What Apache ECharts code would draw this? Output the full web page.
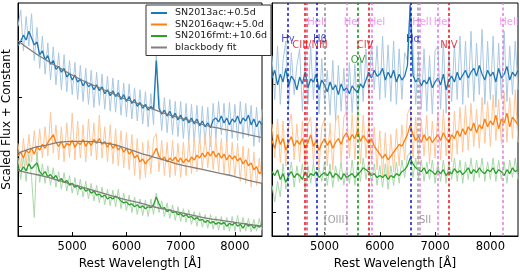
<!DOCTYPE html>
<html>
<head>
<meta charset="utf-8">
<script src="https://cdn.jsdelivr.net/npm/echarts@6/dist/echarts.min.js"></script>
<style>
  html, body { margin: 0; padding: 0; background: #fff; }
  #chart { width: 520px; height: 275px; }
</style>
</head>
<body>
<div id="chart"></div>
<script>
// wavelength grids (Angstrom), 50 A steps
const wlLeft = []
for (let w = 4000; w <= 8500; w += 50) wlLeft.push(w)
const wlRight = []
for (let w = 4050; w <= 8500; w += 50) wlRight.push(w)
const wlFit = []
for (let w = 4000; w <= 8500; w += 250) wlFit.push(w)

// left panel: scaled flux + constant
const blueLeft = [195,200,206,201,210,203,196,199,186,190,181,185,176,180,171,174,168,172,163,167,160,165,158,161,154,159,153,156,150,155,149,153,146,150,144,149,143,147,140,145,138,143,136,140,133,137,131,135,129,133,130,180,131,125,129,123,128,121,126,119,124,118,122,116,121,115,120,113,118,112,116,111,119,121,117,123,116,121,114,120,117,123,115,121,118,124,114,120,112,118,114]
const blueLeftRaw = [215,232,190,225,195,228,180,214,172,205,166,198,160,194,155,188,150,186,148,180,145,178,140,175,138,172,135,170,132,168,134,166,130,164,128,162,127,160,124,157,122,156,120,152,118,150,115,148,112,146,114,186,144,108,142,106,140,104,138,102,138,100,136,98,135,96,134,95,133,94,132,92,136,100,138,104,136,96,137,100,135,98,138,100,136,102,134,92,132,96,130]
const orangeLeft = [82,86,80,88,85,90,84,92,88,94,90,96,100,104,96,92,97,90,95,93,98,91,96,94,99,92,97,93,99,95,100,94,97,91,96,90,94,88,92,86,90,84,87,80,83,76,79,74,78,80,84,90,82,78,81,76,80,77,81,76,80,75,79,76,81,78,83,80,85,81,86,82,87,81,85,80,84,78,83,79,82,77,80,74,78,72,75,68,71,64,66]
const orangeLeftRaw = [95,70,100,72,104,76,108,78,110,80,112,82,127,85,114,78,112,76,116,80,126,78,118,80,114,76,120,82,116,78,124,80,112,76,114,74,110,72,108,70,106,68,104,62,100,58,96,60,98,64,100,105,66,98,62,96,60,98,62,95,60,96,62,98,64,100,66,102,68,104,70,102,68,100,66,100,64,98,62,96,60,95,56,92,54,90,50,86,52,80,55]
const greenLeft = [70,66,71,67,74,69,72,75,66,63,66,61,63,59,62,56,59,55,57,52,54,50,52,48,50,46,48,44,46,42,43,40,42,38,40,38,41,39,36,34,35,32,33,30,32,29,31,28,30,29,32,40,33,28,29,25,27,24,25,22,23,20,22,19,20,17,19,16,17,14,16,13,15,12,14,12,14,10,13,11,14,10,12,8,13,10,12,8,11,9,12]
const greenLeftRaw = [80,58,82,56,84,60,19,86,55,74,54,72,52,70,50,66,48,65,46,62,44,60,42,58,40,56,38,54,36,52,34,50,32,48,31,47,30,48,28,44,26,42,24,40,22,38,21,37,20,38,22,44,24,36,20,34,18,32,16,30,15,28,14,27,12,25,10,24,9,22,8,22,7,20,6,20,6,19,5,20,5,21,4,19,5,18,4,17,5,18,6]

// blackbody fits, every 250 A
const fitBlue = [200,190,181,173,165,158,152,146,140,135,130,125,121,117,113,110,107,104,101]
const fitOrange = [85,90,93,96,97,97,96,94,90,85,81,77,73,70,67,64,61,57,54]
const fitGreen = [67,64,61,57,53,49,45,41,37,34,30,27,24,21,18,16,14,12,10]

// right panel: continuum-normalised spectra
const blueRight = [162,170,155,166,158,172,154,164,160,150,163,156,168,152,161,158,166,150,160,155,148,158,150,155,145,156,149,152,146,154,150,147,156,152,160,168,162,170,164,166,172,160,168,162,170,158,166,160,164,175,237,165,158,162,154,160,156,163,152,158,162,155,166,150,160,164,158,168,160,165,170,162,168,172,164,175,166,160,170,164,168,158,172,162,166,174,160,168,164,170]
const blueRightRaw = [185,140,195,135,180,200,130,188,145,175,192,128,186,135,195,140,190,125,182,138,170,124,180,118,175,128,172,120,178,126,176,122,182,138,192,145,198,150,195,140,205,142,196,138,200,135,192,140,188,180,238,195,135,188,130,192,128,185,125,190,195,130,200,126,190,138,196,140,205,135,200,142,210,138,198,145,212,135,200,140,205,132,198,140,210,138,195,145,200,150]
const orangeRight = [98,90,104,94,100,88,96,102,92,98,94,100,90,96,104,92,98,88,95,100,93,98,90,96,100,94,102,106,98,104,100,108,97,103,99,95,100,92,88,84,80,84,78,82,86,90,94,92,98,104,114,104,98,102,96,104,98,102,96,100,104,98,106,100,96,104,100,108,102,110,104,112,108,116,106,114,110,120,112,118,114,124,110,120,116,126,112,122,118,114]
const orangeRightRaw = [115,80,120,75,118,72,112,125,78,115,76,118,70,114,122,74,116,68,112,120,72,116,68,118,124,76,122,128,80,125,78,130,74,124,80,118,76,112,68,108,62,106,58,104,66,110,72,114,78,125,132,80,122,76,120,82,124,74,118,80,126,78,130,82,120,76,128,84,132,86,134,88,136,92,130,90,142,95,138,92,145,98,140,94,148,96,142,100,150,96]
const greenRight = [66,62,68,58,64,55,62,66,60,64,62,58,66,60,64,62,66,60,63,65,62,66,60,64,62,58,64,60,62,64,60,63,66,70,68,66,62,64,60,62,60,63,58,62,60,64,62,66,68,72,80,74,70,68,66,70,64,68,66,63,67,64,68,62,66,64,69,65,67,63,66,70,64,68,65,70,66,64,68,66,70,64,68,66,62,68,64,70,66,68]
const greenRightRaw = [52,35,56,40,74,48,58,76,50,72,55,74,48,72,54,75,50,70,56,76,52,74,50,72,56,76,52,70,54,78,52,74,56,80,58,76,54,74,52,72,50,74,48,72,52,76,54,78,60,82,86,60,80,58,78,56,76,58,78,54,76,56,78,54,76,58,80,56,78,54,76,58,80,56,78,60,80,56,76,58,80,56,78,58,76,54,78,60,80,58]

// identified lines (rest wavelength) and their colours
const lineWl = [4340, 4640, 4686, 4861, 5007, 5411, 5597, 5801, 5850, 6563, 6690, 6725, 7055, 7240, 8230]
const lineColor = ["#1515c8", "#e8101a", "#e84070", "#1515c8", "#888888", "#e07be0", "#118811", "#e8101a", "#e07be0", "#1515c8", "#999999", "#e07be0", "#e07be0", "#e8101a", "#e07be0"]

// line labels: text, wavelength, height, colour
const labelText = ["HeII", "HeI", "HeI", "HeII", "HeI", "HeII", "Hγ", "CIII/NIII", "Hβ", "CIV", "OV", "Hα", "NIV", "[OIII]", "SII"]
const labelWl = [4864, 5497, 5949, 6763, 7125, 8337, 4339, 4737, 4918, 5733, 5606, 6601, 7252, 5208, 6818]
const labelY = [219, 219, 219, 219, 219, 219, 202, 195, 202, 195, 180, 202, 195, 16, 16]
const labelColor = ["#ee82ee", "#ee82ee", "#ee82ee", "#ee82ee", "#ee82ee", "#ee82ee", "#1515c8", "#e8101a", "#1515c8", "#e8101a", "#118811", "#1515c8", "#e8101a", "#888888", "#888888"]

const names = ["SN2013ac:+0.5d", "SN2016aqw:+5.0d", "SN2016fmt:+10.6d", "blackbody fit"]
const colors = ["#1f77b4", "#ff7f0e", "#2ca02c", "#7f7f7f"]
const lightColors = ["#a9c8e3", "#ffc697", "#a9d9a9"]

const zip = (xs, ys) => ys.map((y, i) => [xs[i], y])
const font = "DejaVu Sans"

const spec = (name, wl, vals, color, width, grid, z) => ({
  name,
  type: "line",
  xAxisIndex: grid,
  yAxisIndex: grid,
  data: zip(wl, vals),
  symbol: "none",
  lineStyle: { color, width },
  itemStyle: { color },
  z,
  silent: true,
  animation: false,
})

const series = []
const left = [blueLeft, orangeLeft, greenLeft]
const leftRaw = [blueLeftRaw, orangeLeftRaw, greenLeftRaw]
const right = [blueRight, orangeRight, greenRight]
const rightRaw = [blueRightRaw, orangeRightRaw, greenRightRaw]
for (let k = 0; k < 3; k++) {
  series.push(spec(names[k] + " raw", wlLeft, leftRaw[k], lightColors[k], 1, 0, 2))
  series.push(spec(names[k], wlLeft, left[k], colors[k], 1.3, 0, 3))
  series.push(spec(names[k] + " raw r", wlRight, rightRaw[k], lightColors[k], 1, 1, 2))
  series.push(spec(names[k] + " r", wlRight, right[k], colors[k], 1.3, 1, 3))
}
for (const fit of [fitBlue, fitOrange, fitGreen]) {
  const s = spec(names[3], wlFit, fit, colors[3], 1.3, 0, 4)
  s.smooth = true
  series.push(s)
}

// vertical dashed lines
series.push({
  type: "line",
  xAxisIndex: 1,
  yAxisIndex: 1,
  data: [],
  z: 5,
  silent: true,
  markLine: {
    symbol: "none",
    silent: true,
    animation: false,
    label: { show: false },
    data: lineWl.map((w, i) => ({
      xAxis: w,
      lineStyle: { color: lineColor[i], type: [3, 2.5], width: 1.5 },
    })),
  },
})

// line labels
series.push({
  type: "scatter",
  xAxisIndex: 1,
  yAxisIndex: 1,
  symbolSize: 0,
  z: 6,
  silent: true,
  animation: false,
  data: labelText.map((t, i) => ({
    value: [labelWl[i], labelY[i]],
    label: {
      show: true,
      position: "inside",
      formatter: t,
      color: labelColor[i],
      fontSize: 10,
      fontFamily: font,
    },
  })),
})

const xAxisBase = (gridIndex, min) => ({
  gridIndex,
  type: "value",
  min,
  max: 8500,
  name: "Rest Wavelength [Å]",
  nameLocation: "middle",
  nameGap: 22,
  nameTextStyle: { fontSize: 12, fontFamily: font, color: "#000" },
  axisLine: { lineStyle: { color: "#000", width: 1 } },
  axisTick: { inside: true, length: 4, lineStyle: { color: "#000" }, customValues: [5000, 6000, 7000, 8000] },
  axisLabel: {
    fontSize: 11.5,
    fontFamily: font,
    color: "#000",
    margin: 5,
    customValues: [5000, 6000, 7000, 8000],
    formatter: (v) => String(v),
  },
  splitLine: { show: false },
})

const yAxisBase = (gridIndex, ticks) => ({
  gridIndex,
  type: "value",
  min: 0,
  max: 239,
  axisLine: { lineStyle: { color: "#000", width: 1 } },
  axisTick: { inside: true, length: 4, lineStyle: { color: "#000" }, customValues: ticks },
  axisLabel: { show: false },
  splitLine: { show: false },
})

const yLeft = yAxisBase(0, [10, 44, 142, 200])
yLeft.name = "Scaled Flux + Constant"
yLeft.nameLocation = "middle"
yLeft.nameGap = 5
yLeft.nameTextStyle = { fontSize: 12, fontFamily: font, color: "#000" }

const option = {
  animation: false,
  backgroundColor: "#fff",
  grid: [
    { left: 16, top: 3, width: 246, height: 239, show: true, borderColor: "#000", borderWidth: 1 },
    { left: 272, top: 3, width: 246, height: 239, show: true, borderColor: "#000", borderWidth: 1 },
  ],
  xAxis: [xAxisBase(0, 4000), xAxisBase(1, 4050)],
  yAxis: [yLeft, yAxisBase(1, [24, 156])],
  legend: {
    data: names,
    orient: "vertical",
    left: 146,
    top: 5,
    padding: [3, 4, 3, 5],
    itemGap: 1.5,
    itemWidth: 16,
    itemHeight: 2,
    icon: "rect",
    borderColor: "#333",
    borderWidth: 1,
    backgroundColor: "#fff",
    textStyle: { fontSize: 9.5, fontFamily: font, color: "#222", padding: [0, 0, 0, 3] },
    selectedMode: false,
  },
  series,
}

const chart = echarts.init(document.getElementById("chart"))
chart.setOption(option)
</script>
</body>
</html>
